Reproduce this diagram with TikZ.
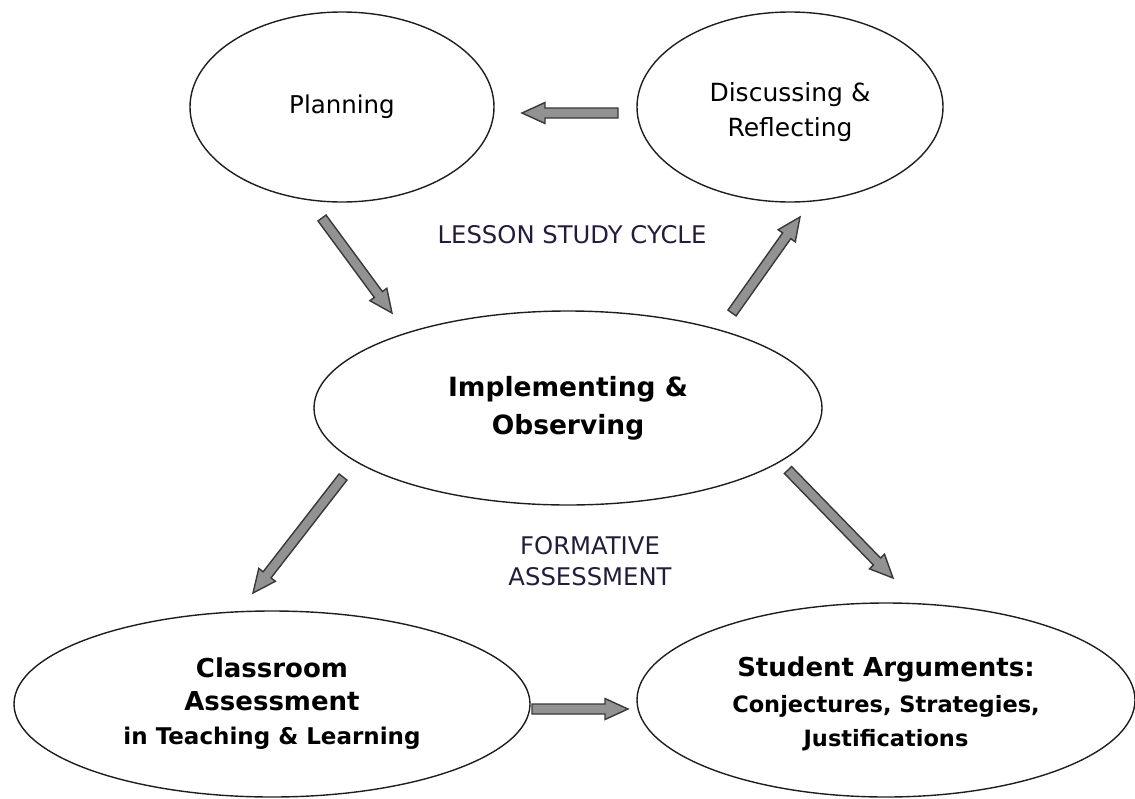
\documentclass[tikz,border=0pt]{standalone}
\usepackage{fontspec}
\setmainfont{DejaVu Sans}
\usetikzlibrary{shapes.geometric,calc}

\definecolor{arrowfill}{HTML}{929292}
\definecolor{arrowline}{HTML}{383838}
\definecolor{ringline}{HTML}{1E1E1E}
\definecolor{captionink}{HTML}{241C3A}

\tikzset{
  stage/.style={ellipse, draw=ringline, line width=1.4pt, inner sep=0pt,
    align=center, text=black},
  caption/.style={text=captionink, align=center, inner sep=0pt,
    font=\fontsize{24.3}{31}\selectfont},
  blockarrowstyle/.style={fill=arrowfill, draw=arrowline, line width=1.4pt,
    line join=miter},
}

% Wide grey block arrow from #1 (tail) to #2 (tip)
\newcommand{\blockarrow}[2]{%
  \coordinate (#1-#2-neck) at ($(#2)!23pt!(#1)$);
  \draw[blockarrowstyle]
    ($(#1)!5pt!90:(#2)$)
    -- ($(#1-#2-neck)!5pt!-90:(#1)$)
    -- ($(#1-#2-neck)!10.5pt!-90:(#1)$)
    -- (#2)
    -- ($(#1-#2-neck)!10.5pt!90:(#1)$)
    -- ($(#1-#2-neck)!5pt!90:(#1)$)
    -- ($(#1)!5pt!-90:(#2)$)
    -- cycle;
}

\begin{document}
\begin{tikzpicture}[x=1pt, y=-1pt]
  \useasboundingbox (0,0) rectangle (1135,798);

  % lesson study stages
  \node[stage, minimum width=304pt, minimum height=190pt,
        font=\fontsize{24.5}{35}\selectfont] (plan) at (342,107) {Planning};
  \node[stage, minimum width=306pt, minimum height=190pt,
        font=\fontsize{25}{35}\selectfont] (discuss) at (790,107)
        {\rule{0pt}{29pt}Discussing \&\\Reflecting};
  \node[stage, minimum width=508pt, minimum height=194pt,
        font=\fontsize{26.5}{38}\selectfont\bfseries] (implement) at (568,408)
        {Implementing \&\\Observing};
  \node[stage, minimum width=516pt, minimum height=186pt,
        font=\fontsize{26}{33}\selectfont\bfseries] (classroom) at (272,704)
        {Classroom\\Assessment\\[1pt]{\fontsize{23}{33}\selectfont in Teaching \& Learning}};
  \node[stage, minimum width=498pt, minimum height=194pt,
        font=\fontsize{26}{36}\selectfont\bfseries] (student) at (886,700)
        {\rule{0pt}{28pt}Student Arguments:\\{\fontsize{22.5}{32}\selectfont Conjectures, Strategies,}\\[-2pt]
         {\fontsize{22.5}{32}\selectfont Justifications}};

  % captions
  \node[caption] (cycle) at (572,235) {LESSON STUDY CYCLE};
  \node[caption] (formative) at (590,561) {FORMATIVE\\ASSESSMENT};

  % arrow end points
  \coordinate (dpTail) at (618,113);  \coordinate (dpTip) at (522,113);
  \coordinate (piTail) at (322,218);  \coordinate (piTip) at (392,313);
  \coordinate (idTail) at (732,313);  \coordinate (idTip) at (800,217);
  \coordinate (icTail) at (343,477);  \coordinate (icTip) at (253,593);
  \coordinate (isTail) at (788,470);  \coordinate (isTip) at (893,578);
  \coordinate (csTail) at (532,709);  \coordinate (csTip) at (628,709);

  \blockarrow{dpTail}{dpTip}
  \blockarrow{piTail}{piTip}
  \blockarrow{idTail}{idTip}
  \blockarrow{icTail}{icTip}
  \blockarrow{isTail}{isTip}
  \blockarrow{csTail}{csTip}
\end{tikzpicture}
\end{document}
